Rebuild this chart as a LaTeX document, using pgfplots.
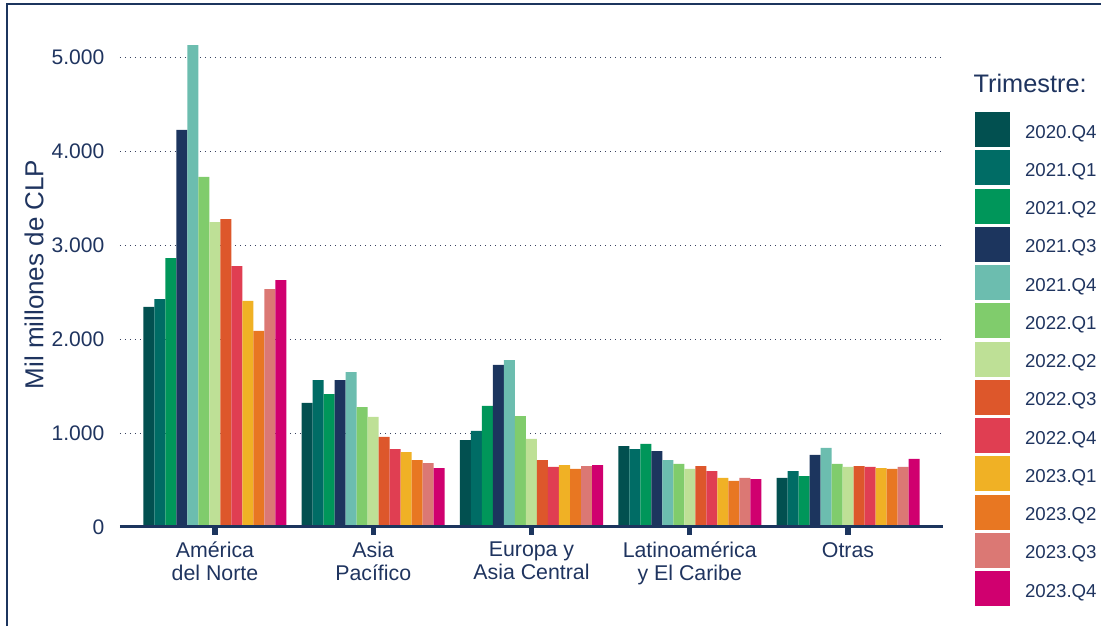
\documentclass[border=0pt]{standalone}
\usepackage{fontspec}
\setmainfont{Liberation Sans}
\usepackage{pgfplots}
\usepackage{pgfplotstable}
\pgfplotsset{compat=1.18}

\definecolor{c1}{RGB}{2,80,80}
\definecolor{c2}{RGB}{0,108,101}
\definecolor{c3}{RGB}{0,150,90}
\definecolor{c4}{RGB}{28,53,94}
\definecolor{c5}{RGB}{108,189,175}
\definecolor{c6}{RGB}{128,204,108}
\definecolor{c7}{RGB}{190,224,150}
\definecolor{c8}{RGB}{221,87,43}
\definecolor{c9}{RGB}{224,62,82}
\definecolor{c10}{RGB}{240,177,37}
\definecolor{c11}{RGB}{232,119,34}
\definecolor{c12}{RGB}{219,120,116}
\definecolor{c13}{RGB}{208,0,111}
\definecolor{navy}{RGB}{28,53,94}
\definecolor{txt}{RGB}{31,52,95}
\definecolor{gridc}{RGB}{55,65,95}

\pgfplotstableread{
x s1 s2 s3 s4 s5 s6 s7 s8 s9 s10 s11 s12 s13
0 2344 2429 2865 4227 5131 3727 3248 3280 2780 2408 2089 2535 2631
1 1323 1567 1418 1567 1652 1280 1174 961 833 801 716 684 631
2 929 1025 1291 1727 1780 1184 940 716 642 663 621 652 663
3 865 833 887 812 716 674 621 652 599 525 493 525 514
4 525 599 546 770 844 674 642 652 642 631 621 642 727
}\datatable

\pgfplotsset{
  sq/.style={fill=#1, draw=none,
    legend image code/.code={\fill[fill=#1] (0pt,-10.9pt) rectangle (26.25pt,15.35pt);}},
}

\begin{document}
\begin{tikzpicture}
\useasboundingbox (0,0) rectangle (825.75pt,469.5pt);
\begin{axis}[
  at={(90pt,74pt)}, anchor=south west,
  scale only axis,
  width=617.25pt, height=379.3pt,
  xmin=-0.6, xmax=4.6,
  ymin=0, ymax=5380,
  ybar=0pt, bar width=8.25pt,
  axis x line*=bottom, axis y line*=left,
  x axis line style={draw=none},
  y axis line style={draw=none},
  xtick={0,1,2,3,4},
  xticklabels={Am\'erica\\del Norte, Asia\\Pac\'ifico, Europa y\\Asia Central, Latinoam\'erica\\y El Caribe, Otras},
  ytick={0,1000,2000,3000,4000,5000},
  yticklabels={0,1.000,2.000,3.000,4.000,5.000},
  tick align=outside,
  major tick length=5.6pt,
  xtick style={line width=4pt, color=navy},
  ytick style={draw=none},
  ymajorgrids,
  grid style={color=gridc, line width=0.85pt, dash pattern=on 0.85pt off 2.9pt},
  x tick label style={align=center, text=txt, font=\fontsize{16}{17.25}\selectfont, anchor=north, yshift=-2pt},
  y tick label style={text=txt, font=\fontsize{15.8}{18}\selectfont, anchor=east, xshift=-2.6pt},
  ylabel={Mil millones de CLP},
  every axis y label/.style={at={(axis description cs:-0.1045,0.5)}, rotate=90, anchor=center, text=txt, font=\fontsize{19.5}{22}\selectfont},
  legend style={at={(axis description cs:1.0389,0.8212)}, anchor=north west, draw=none, fill=none,
    inner sep=0pt, outer sep=0pt, row sep=2.45pt, column sep=11.25pt,
    nodes={inner sep=0pt, text=txt, font=\fontsize{14}{16}\selectfont}},
  legend cell align=left,
]
\addplot[sq=c1] table[x=x,y=s1]{\datatable};
\addplot[sq=c2] table[x=x,y=s2]{\datatable};
\addplot[sq=c3] table[x=x,y=s3]{\datatable};
\addplot[sq=c4] table[x=x,y=s4]{\datatable};
\addplot[sq=c5] table[x=x,y=s5]{\datatable};
\addplot[sq=c6] table[x=x,y=s6]{\datatable};
\addplot[sq=c7] table[x=x,y=s7]{\datatable};
\addplot[sq=c8] table[x=x,y=s8]{\datatable};
\addplot[sq=c9] table[x=x,y=s9]{\datatable};
\addplot[sq=c10] table[x=x,y=s10]{\datatable};
\addplot[sq=c11] table[x=x,y=s11]{\datatable};
\addplot[sq=c12] table[x=x,y=s12]{\datatable};
\addplot[sq=c13] table[x=x,y=s13]{\datatable};
\legend{2020.Q4,2021.Q1,2021.Q2,2021.Q3,2021.Q4,2022.Q1,2022.Q2,2022.Q3,2022.Q4,2023.Q1,2023.Q2,2023.Q3,2023.Q4}
\draw[navy, line width=3.75pt] (axis cs:-0.6,0) -- (axis cs:4.6,0);
\end{axis}
\node[anchor=base west, inner sep=0pt, text=txt, font=\fontsize{19}{22}\selectfont] at (730pt,399.75pt) {Trimestre:};
\draw[navy, line width=1.5pt] (5.25pt,0) -- (5.25pt,466.5pt) -- (825.75pt,466.5pt);
\end{tikzpicture}
\end{document}
